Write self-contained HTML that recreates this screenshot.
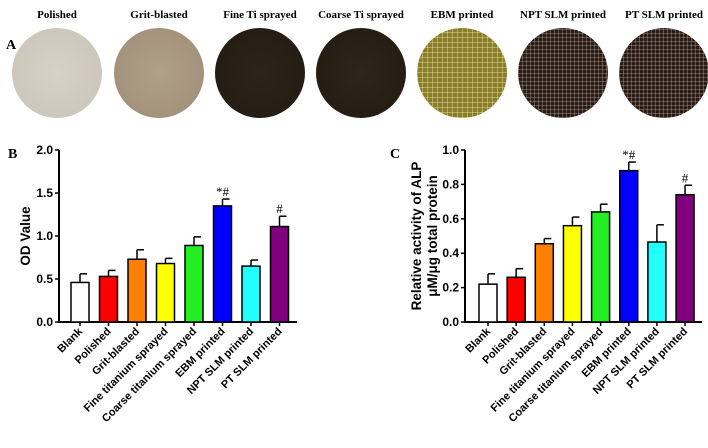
<!DOCTYPE html>
<html><head><meta charset="utf-8"><style>
body{margin:0;background:#fff;width:708px;height:448px;overflow:hidden;position:relative;font-family:"Liberation Sans",sans-serif}
.lbl{position:absolute;top:9px;font:bold 11px "Liberation Serif",serif;transform:translateX(-50%);white-space:nowrap}
.disc{position:absolute;top:28px;width:90px;height:90px;border-radius:50%;margin-left:-45px}
.mesh{background:repeating-linear-gradient(0deg,rgba(190,180,175,.35) 0 1px,transparent 1px 4px),repeating-linear-gradient(90deg,rgba(190,180,175,.35) 0 1px,transparent 1px 4px),#2a1c14}
</style></head><body>
<div class="lbl" style="left:57px">Polished</div>
<div class="lbl" style="left:159px">Grit-blasted</div>
<div class="lbl" style="left:260px">Fine Ti sprayed</div>
<div class="lbl" style="left:361px">Coarse Ti sprayed</div>
<div class="lbl" style="left:462px">EBM printed</div>
<div class="lbl" style="left:563px">NPT SLM printed</div>
<div class="lbl" style="left:664px">PT SLM printed</div>
<div style="position:absolute;left:6px;top:38px;font:bold 14px 'Liberation Serif',serif">A</div>
<div class="disc" style="left:57px;background:radial-gradient(circle,#d6d2c8,#c9c3b6)"></div>
<div class="disc" style="left:159px;background:radial-gradient(circle,#b0a08a,#9e8c76)"></div>
<div class="disc" style="left:260px;background:radial-gradient(circle,#2c2418,#231b12)"></div>
<div class="disc" style="left:361px;background:radial-gradient(circle,#2e2618,#221a10)"></div>
<div class="disc" style="left:462px;background:repeating-linear-gradient(0deg,rgba(240,235,170,.4) 0 1px,transparent 1px 5px),repeating-linear-gradient(90deg,rgba(240,235,170,.4) 0 1px,transparent 1px 5px),#8a7e2c"></div>
<div class="disc mesh" style="left:563px"></div>
<div class="disc mesh" style="left:664px"></div>

<svg id="chart" width="708" height="448" style="position:absolute;left:0;top:0"></svg>
<script>
const categories=["Blank","Polished","Grit-blasted","Fine titanium sprayed","Coarse titanium sprayed","EBM printed","NPT SLM printed","PT SLM printed"];
const colors=["#ffffff","#ff0000","#ff8000","#ffff00","#22ee22","#0000ff","#22ffff","#800080"];
const odValues=[0.46,0.53,0.73,0.68,0.89,1.35,0.65,1.11];
const odErrors=[0.10,0.07,0.11,0.06,0.10,0.08,0.07,0.12];
const odTicks=["0.0","0.5","1.0","1.5","2.0"];
const alpValues=[0.22,0.26,0.455,0.56,0.64,0.88,0.465,0.74];
const alpErrors=[0.06,0.05,0.03,0.05,0.045,0.05,0.10,0.055];
const alpTicks=["0.0","0.2","0.4","0.6","0.8","1.0"];
const marks=["","","","","","*#","","#"];
const NS="http://www.w3.org/2000/svg";
const svg=document.getElementById('chart');
function mk(t,a,txt){const e=document.createElementNS(NS,t);for(const k in a)e.setAttribute(k,a[k]);if(txt!=null)e.textContent=txt;svg.appendChild(e);return e;}
function panel(p){
  const y=v=>p.y0-(v/p.max)*(p.y0-p.y1);
  const x=i=>p.x0+i*p.step;
  let e=mk('line',{x1:p.ax,y1:p.y1,x2:p.ax,y2:p.y0+1,stroke:'#000','stroke-width':2});
  
  e=mk('line',{x1:p.ax,y1:p.y0,x2:p.xe,y2:p.y0,stroke:'#000','stroke-width':2});
  
  p.ticks.forEach(t=>{const v=parseFloat(t),yy=y(v);
    mk('line',{x1:p.ax-4,y1:yy,x2:p.ax,y2:yy,stroke:'#000','stroke-width':1.5});
    e=mk('text',{x:p.ax-6,y:yy+4,'text-anchor':'end','font-size':12,'font-weight':'bold'},t);
    });
  p.vals.forEach((v,i)=>{const cx=x(i),top=y(v),et=y(v+p.errs[i]);
    mk('line',{x1:cx,y1:p.y0,x2:cx,y2:p.y0+4,stroke:'#000','stroke-width':1.5});
    mk('line',{x1:cx,y1:top,x2:cx,y2:et,stroke:'#000','stroke-width':1.5});
    mk('line',{x1:cx,y1:et,x2:cx+7,y2:et,stroke:'#000','stroke-width':1.5});
    e=mk('rect',{x:cx-9,y:top,width:18,height:p.y0-top,fill:colors[i],stroke:'#000','stroke-width':1.5});
    
    if(marks[i]){e=mk('text',{x:cx,y:et-3,'text-anchor':'middle','font-size':13,'font-family':'Liberation Serif'},marks[i]);
      }
    e=mk('text',{x:cx+3,y:p.y0+10,'text-anchor':'end','font-size':11,'font-weight':'bold',transform:`rotate(-45 ${cx+3} ${p.y0+10})`},categories[i]);
    });
  e=mk('text',{x:p.px,y:158,'font-size':14,'font-weight':'bold','font-family':'Liberation Serif'},p.letter);
  
  p.title.forEach((t,k)=>{const tx=p.tx+k*16;
    e=mk('text',{x:tx,y:(p.y0+p.y1)/2,'text-anchor':'middle','font-size':13.5,'font-weight':'bold',transform:`rotate(-90 ${tx} ${(p.y0+p.y1)/2})`},t);
    });
}
panel({id:'od',ax:59,xe:297,x0:80,step:28.5,y0:322,y1:150,max:2.0,vals:odValues,errs:odErrors,ticks:odTicks,letter:'B',px:8,title:['OD Value'],tx:30});
panel({id:'alp',ax:465,xe:702,x0:488,step:28.15,y0:322,y1:150,max:1.0,vals:alpValues,errs:alpErrors,ticks:alpTicks,letter:'C',px:390,title:['Relative activity of ALP','μM/μg total protein'],tx:421});
</script>
</body></html>
